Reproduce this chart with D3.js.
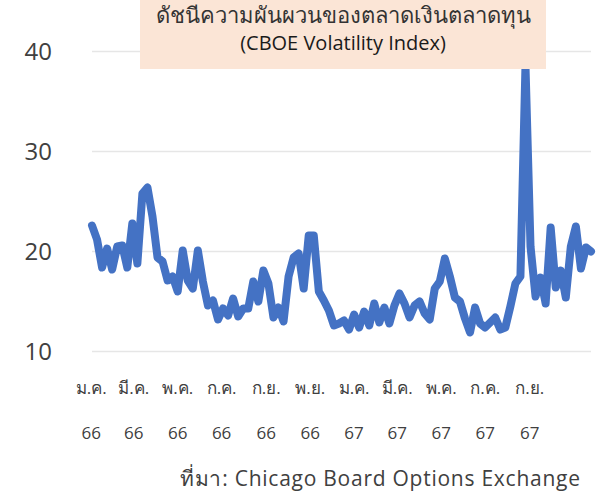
<!DOCTYPE html>
<html>
<head>
<meta charset="utf-8">
<script src="https://cdn.jsdelivr.net/npm/d3@7"></script>
<style>
  body { margin: 0; background: #fff; }
  svg { display: block; }
  text { font-family: "Open Sans", "Noto Sans", sans-serif; fill: #404040; }
</style>
</head>
<body>
<svg id="chart" width="602" height="498"></svg>
<script>
// weekly VIX closes (first week starts 2 Jan 2023)
var startWeek = "2023-01-02";
var vix = [
  22.6, 21.2, 18.4, 20.3, 18.2, 20.5, 20.6, 18.4, 22.8, 18.8,
  25.8, 26.4, 23.5, 19.4, 19.0, 17.1, 17.5, 16.0, 20.1, 17.1,
  16.3, 20.1, 17.0, 14.6, 15.1, 13.2, 14.3, 13.6, 15.3, 13.5,
  14.3, 14.3, 17.0, 15.0, 18.1, 16.8, 13.4, 14.4, 13.0, 17.5,
  19.4, 19.8, 16.3, 21.6, 21.6, 16.0, 15.1, 14.1, 12.6, 12.8,
  13.1, 12.2, 13.7, 12.4, 14.0, 12.6, 14.8, 12.9, 14.4, 12.8,
  14.6, 15.8, 14.8, 13.4, 14.6, 15.0, 13.8, 13.2, 16.3, 17.0,
  19.3, 17.5, 15.4, 15.0, 13.3, 11.9, 14.4, 12.8, 12.4, 12.9,
  13.4, 12.2, 12.4, 14.5, 16.8, 17.5, 38.6, 20.5, 15.5, 17.4,
  14.8, 22.4, 16.4, 18.1, 15.4, 20.5, 22.5, 18.3, 20.4, 20.0
];

var yTicks = [10, 20, 30, 40];
var tickDates = ["2023-01-01", "2023-03-01", "2023-05-01", "2023-07-01", "2023-09-01", "2023-11-01",
                 "2024-01-01", "2024-03-01", "2024-05-01", "2024-07-01", "2024-09-01"];
var tickMonths = ["ม.ค.", "มี.ค.", "พ.ค.", "ก.ค.", "ก.ย.", "พ.ย.", "ม.ค.", "มี.ค.", "พ.ค.", "ก.ค.", "ก.ย."];
var tickYears = ["66", "66", "66", "66", "66", "66", "67", "67", "67", "67", "67"];

var titleLines = ["ดัชนีความผันผวนของตลาดเงินตลาดทุน", "(CBOE Volatility Index)"];
var sourceText = "ที่มา: Chicago Board Options Exchange";

var parse = d3.timeParse("%Y-%m-%d");
var start = parse(startWeek);
var data = vix.map(function (v, i) {
  return { date: d3.timeWeek.offset(start, i), value: v };
});

var svg = d3.select("#chart");

var x = d3.scaleTime()
  .domain([data[0].date, data[data.length - 1].date])
  .range([92, 591]);
var y = d3.scaleLinear().domain([10, 40]).range([351.5, 51.5]);

// grid
svg.append("g")
  .selectAll("line")
  .data(yTicks)
  .enter()
  .append("line")
  .attr("x1", 92).attr("x2", 591)
  .attr("y1", function (d) { return y(d); })
  .attr("y2", function (d) { return y(d); })
  .attr("stroke", "#e6e6e6")
  .attr("stroke-width", 1.5);

// y labels
svg.append("g")
  .selectAll("text")
  .data(yTicks)
  .enter()
  .append("text")
  .attr("x", 52)
  .attr("y", function (d) { return y(d); })
  .attr("dy", "0.36em")
  .attr("text-anchor", "end")
  .style("font-size", "24px")
  .text(function (d) { return d; });

// x labels (two lines)
var xTicks = tickDates.map(parse);
var xl = svg.append("g")
  .selectAll("text")
  .data(xTicks)
  .enter()
  .append("text")
  .attr("text-anchor", "middle")
  .style("font-size", "17px");
xl.append("tspan")
  .attr("x", function (d) { return x(d); })
  .attr("y", 394)
  .text(function (d, i) { return tickMonths[i]; });
xl.append("tspan")
  .attr("x", function (d) { return x(d); })
  .attr("y", 439)
  .text(function (d, i) { return tickYears[i]; });

// line
var line = d3.line()
  .x(function (d) { return x(d.date); })
  .y(function (d) { return y(d.value); });

svg.append("path")
  .datum(data)
  .attr("d", line)
  .attr("fill", "none")
  .attr("stroke", "#4472c4")
  .attr("stroke-width", 8)
  .attr("stroke-linejoin", "round")
  .attr("stroke-linecap", "round");

// title box over the plot
svg.append("rect")
  .attr("x", 140).attr("y", 0)
  .attr("width", 406).attr("height", 69)
  .attr("fill", "#fbe5d6");

svg.append("text")
  .attr("x", 343).attr("y", 23)
  .attr("text-anchor", "middle")
  .style("font-size", "22px")
  .style("fill", "#333")
  .text(titleLines[0]);
svg.append("text")
  .attr("x", 343).attr("y", 50)
  .attr("text-anchor", "middle")
  .style("font-size", "20px")
  .style("fill", "#1a1a1a")
  .text(titleLines[1]);

// source
svg.append("text")
  .attr("x", 580).attr("y", 486)
  .attr("text-anchor", "end")
  .attr("textLength", 400)
  .attr("lengthAdjust", "spacing")
  .style("font-size", "21px")
  .text(sourceText);
</script>
</body>
</html>
